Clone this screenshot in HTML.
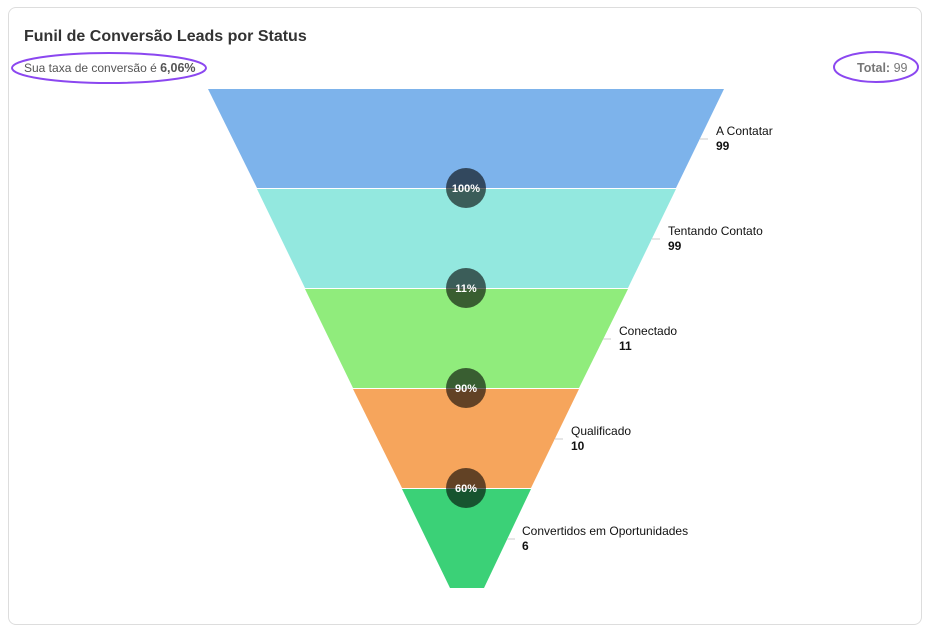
<!DOCTYPE html>
<html><head><meta charset="utf-8"><style>
html,body{margin:0;padding:0;background:#fff;width:932px;height:632px;overflow:hidden;font-family:"Liberation Sans",sans-serif}
.card{position:absolute;left:8px;top:7px;width:914px;height:618px;border:1px solid #ddd;border-radius:8px;box-sizing:border-box}
</style></head><body>
<div class="card"></div>
<svg width="932" height="632" style="position:absolute;left:0;top:0" font-family="Liberation Sans, sans-serif">
<text x="24" y="41" font-size="16" font-weight="bold" fill="#333">Funil de Conversão Leads por Status</text>
<text x="24" y="72" font-size="12" fill="#555">Sua taxa de conversão é <tspan font-weight="bold" font-size="12.5">6,06%</tspan></text>
<ellipse cx="109" cy="68" rx="97" ry="15" fill="none" stroke="#8b47f0" stroke-width="2"/>
<text x="857" y="72" font-size="12.5" fill="#777"><tspan font-weight="bold">Total:</tspan> 99</text>
<ellipse cx="876" cy="67" rx="42" ry="15" fill="none" stroke="#8b47f0" stroke-width="2"/>
<polygon points="208,89 724,89 676,188 257,188" fill="#7db3eb"/>
<polygon points="257,189 676,189 628,288 305,288" fill="#93e8df"/>
<polygon points="305,289 628,289 579,388 353,388" fill="#90ec7c"/>
<polygon points="353,389 579,389 531,488 402,488" fill="#f6a55c"/>
<polygon points="402,489 531,489 484,588 450,588" fill="#3bd177"/>
<g stroke="#ccc" stroke-width="1">
<line x1="700" y1="139" x2="708" y2="139"/><line x1="652" y1="239" x2="660" y2="239"/>
<line x1="603" y1="339" x2="611" y2="339"/><line x1="555" y1="439" x2="563" y2="439"/>
<line x1="507" y1="539" x2="515" y2="539"/>
</g>
<g font-size="12" fill="#111">
<text x="716" y="135">A Contatar</text><text x="716" y="150" font-weight="bold">99</text>
<text x="668" y="235">Tentando Contato</text><text x="668" y="250" font-weight="bold">99</text>
<text x="619" y="335">Conectado</text><text x="619" y="350" font-weight="bold">11</text>
<text x="571" y="435">Qualificado</text><text x="571" y="450" font-weight="bold">10</text>
<text x="522" y="535">Convertidos em Oportunidades</text><text x="522" y="550" font-weight="bold">6</text>
</g>
<g fill="rgba(0,0,0,0.6)">
<circle cx="466" cy="188" r="20"/><circle cx="466" cy="288" r="20"/>
<circle cx="466" cy="388" r="20"/><circle cx="466" cy="488" r="20"/>
</g>
<g font-size="11" font-weight="bold" fill="#fff" text-anchor="middle">
<text x="466" y="192">100%</text><text x="466" y="292">11%</text>
<text x="466" y="392">90%</text><text x="466" y="492">60%</text>
</g>
</svg>
</body></html>
